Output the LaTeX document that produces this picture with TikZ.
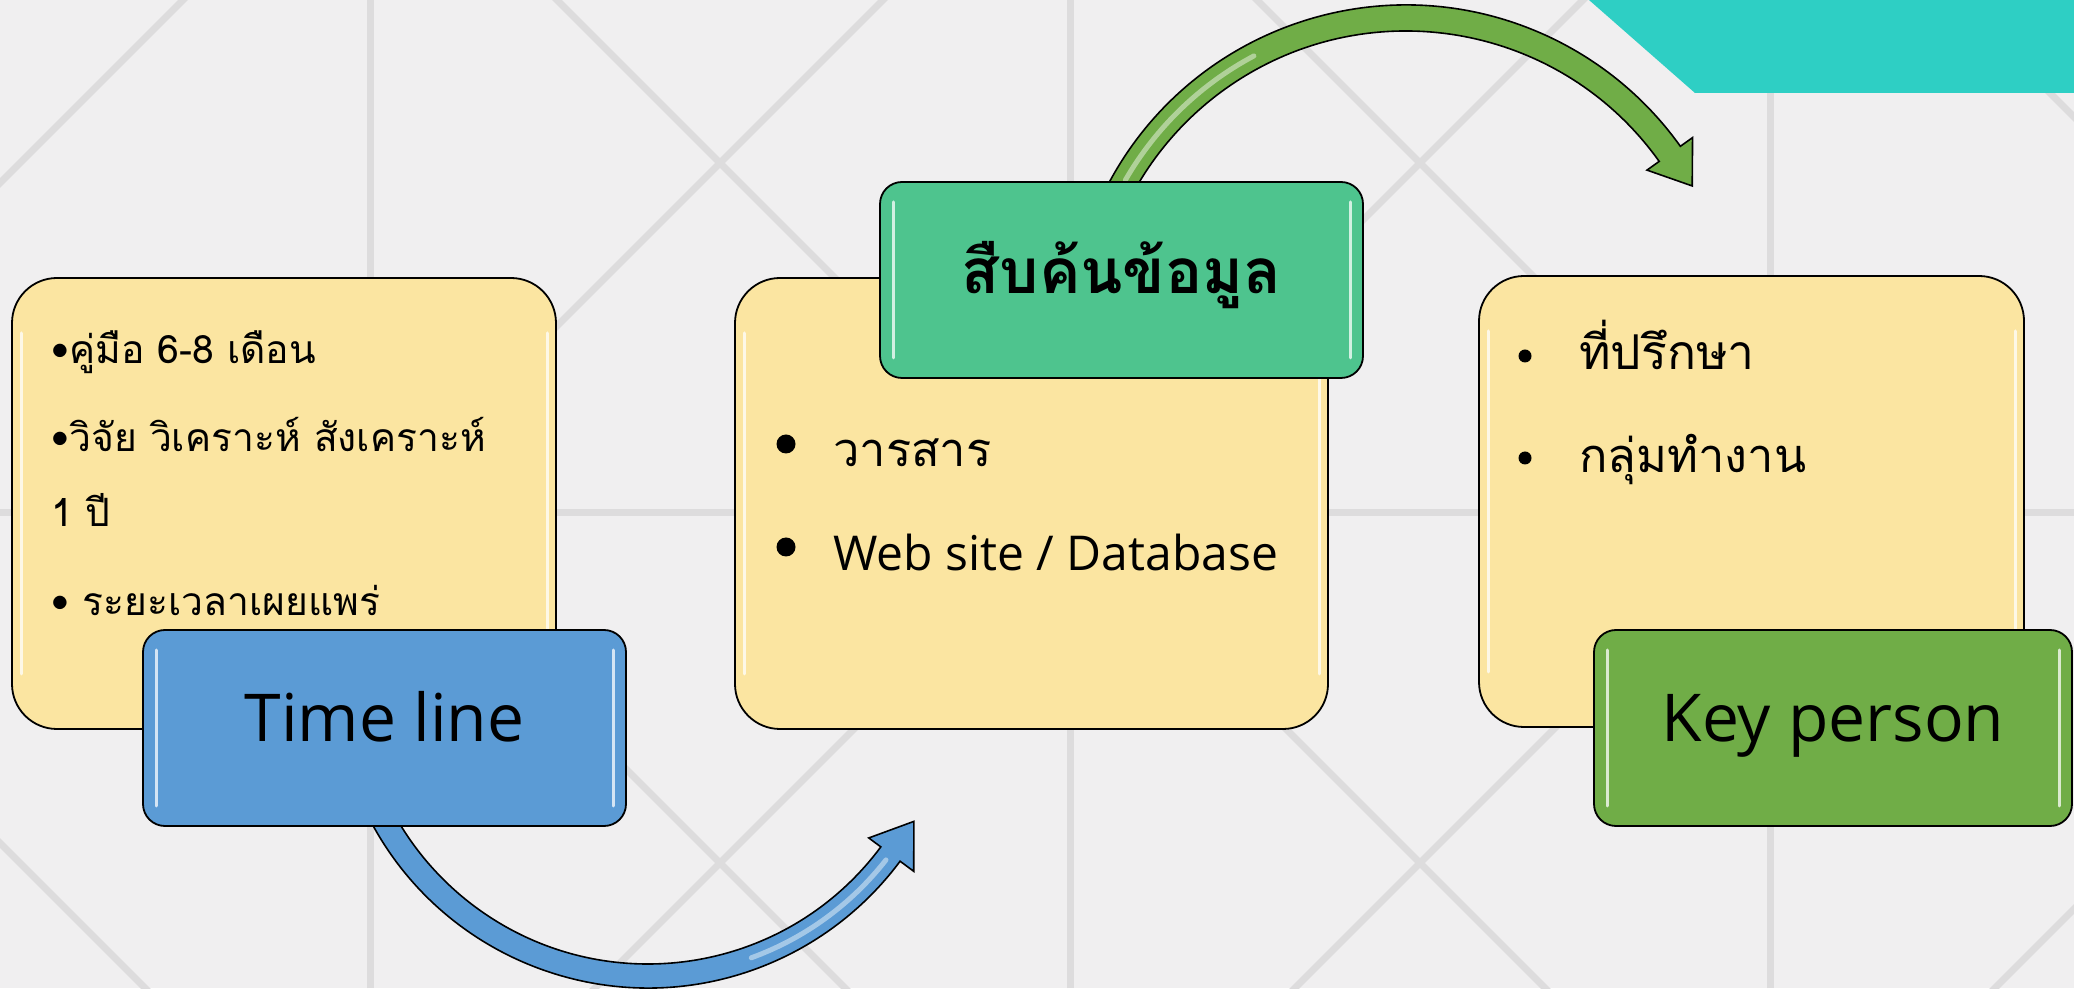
\documentclass[tikz,border=0pt]{standalone}
\usepackage{fontspec}
\setmainfont{Loma}[Script=Thai]
\newfontfamily\latinfont{Open Sans}
\usetikzlibrary{shapes.geometric}

\definecolor{backdrop}{HTML}{F0EFF0}
\definecolor{gridgray}{HTML}{DDDCDD}
\definecolor{paper}{HTML}{FBE5A1}
\definecolor{tealband}{HTML}{2ECFC4}
\definecolor{timeblue}{HTML}{5B9BD5}
\definecolor{searchgreen}{HTML}{4EC48E}
\definecolor{keygreen}{HTML}{70AD47}

\tikzset{shine/.style 2 args={path picture={
  \draw [white, opacity=0.75, line width=3pt, line cap=round]
    ([xshift=#1, yshift=-#2]path picture bounding box.north west) --
    ([xshift=#1, yshift=#2]path picture bounding box.south west);
  \draw [white, opacity=0.75, line width=3pt, line cap=round]
    ([xshift=-#1, yshift=-#2]path picture bounding box.north east) --
    ([xshift=-#1, yshift=#2]path picture bounding box.south east);}}}
\tikzstyle{panel} = [rectangle, rounded corners=45pt, minimum height=451pt, inner sep=0pt,
  draw=black, line width=1.8pt, fill=paper, shine={9pt}{55pt}]
\tikzstyle{tag} = [rectangle, rounded corners=22pt, minimum width=483pt, minimum height=196pt,
  inner sep=0pt, text height=48pt, text depth=20pt, draw=black, line width=1.8pt, shine={13pt}{20pt}]
\tikzstyle{item} = [anchor=base west, inner sep=0pt]
\tikzstyle{dot} = [circle, fill=black, inner sep=0pt]
\tikzstyle{grid} = [line width=7pt, draw=gridgray]
\tikzstyle{band} = [draw=black, line width=1.6pt]

\begin{document}
\begin{tikzpicture}[x=1pt, y=1pt]
    \fill [backdrop] (0,0) rectangle (2074,988);
    \useasboundingbox (0,0) rectangle (2074,988);

    % background pattern
    \begin{scope}
      \clip (0,0) rectangle (2074,988);
      \foreach \gx in {370,1070,1770}
        \draw [grid] (\gx,0) -- (\gx,988);
      \draw [grid] (0,475) -- (2074,475);
      \draw [grid] (370,1175) -- (-330,475);
      \draw [grid] (370,1175) -- (1070,475);
      \draw [grid] (1070,1175) -- (370,475);
      \draw [grid] (1070,1175) -- (1770,475);
      \draw [grid] (1770,1175) -- (1070,475);
      \draw [grid] (1770,1175) -- (2470,475);
      \draw [grid] (-330,475) -- (370,-225);
      \draw [grid] (370,475) -- (1070,-225);
      \draw [grid] (1070,475) -- (370,-225);
      \draw [grid] (1070,475) -- (1770,-225);
      \draw [grid] (1770,475) -- (1070,-225);
      \draw [grid] (2470,475) -- (1770,-225);
      \fill [tealband] (1589,988) -- (1695,895) -- (2074,895) -- (2074,988) -- cycle;
    \end{scope}

    % curved arrows
    \coordinate (bluehub)  at (648,314);
    \coordinate (greenhub) at (1406,646);
    \filldraw [band, fill=timeblue]
      ([shift={(205:314pt)}]bluehub) arc [start angle=205, end angle=323.4, radius=314pt]
      -- ([shift={(323.4:331pt)}]bluehub) -- ([shift={(331:304pt)}]bluehub)
      -- ([shift={(323.4:275pt)}]bluehub) -- ([shift={(323.4:290pt)}]bluehub)
      arc [start angle=323.4, end angle=205, radius=290pt] -- cycle;
    \draw [white, opacity=0.45, line width=5pt, line cap=round]
      ([shift={(290:302pt)}]bluehub) arc [start angle=290, end angle=322, radius=302pt];
    \filldraw [band, fill=keygreen]
      ([shift={(155:337pt)}]greenhub) arc [start angle=155, end angle=35.5, radius=337pt]
      -- ([shift={(35.5:352pt)}]greenhub) -- ([shift={(28.6:326pt)}]greenhub)
      -- ([shift={(35.5:296pt)}]greenhub) -- ([shift={(35.5:311pt)}]greenhub)
      arc [start angle=35.5, end angle=155, radius=311pt] -- cycle;
    \draw [white, opacity=0.45, line width=5pt, line cap=round]
      ([shift={(150:324pt)}]greenhub) arc [start angle=150, end angle=118, radius=324pt];

    % panels
    \node (leftpanel)  [panel, minimum width=544pt] at (284,484.5) {};
    \node (midpanel)   [panel, minimum width=593pt] at (1031.5,484.5) {};
    \node (rightpanel) [panel, minimum width=545pt] at (1751.5,486.5) {};

    % panel texts
    \node (manual)  [item, font=\fontsize{39}{39}\selectfont] at (51,624) {•คู่มือ 6-8 เดือน};
    \node (study)   [item, font=\fontsize{39}{39}\selectfont] at (51,536) {•วิจัย วิเคราะห์ สังเคราะห์};
    \node (year)    [item, font=\fontsize{39}{39}\selectfont] at (51,461) {1 ปี};
    \node (spread)  [item, font=\fontsize{39}{39}\selectfont] at (51,372) {• ระยะเวลาเผยแพร่};

    \node (journaldot) [dot, minimum size=19pt] at (786,544) {};
    \node (webdot)     [dot, minimum size=19pt] at (786,441) {};
    \node (journal) [item, font=\fontsize{47}{47}\selectfont] at (833,521) {วารสาร};
    \node (web)     [item, font=\latinfont\fontsize{48}{48}\selectfont] at (833,417) {Web site / Database};

    \node (advisordot) [dot, minimum size=13pt] at (1525,632) {};
    \node (teamdot)    [dot, minimum size=13pt] at (1525,530) {};
    \node (advisor) [item, font=\fontsize{48}{48}\selectfont] at (1579,618) {ที่ปรึกษา};
    \node (team)    [item, font=\fontsize{47}{47}\selectfont] at (1579,515) {กลุ่มทำงาน};

    % title tags
    \node (timeline)  [tag, fill=timeblue, font=\latinfont\fontsize{66}{66}\selectfont]
      at (384.5,260) {Time line};
    \node (search)    [tag, fill=searchgreen, font=\bfseries\fontsize{62}{62}\selectfont]
      at (1121.5,708) {สืบค้นข้อมูล};
    \node (keyperson) [tag, fill=keygreen, minimum width=478pt, font=\latinfont\fontsize{66}{66}\selectfont]
      at (1833,260) {Key person};
\end{tikzpicture}
\end{document}
